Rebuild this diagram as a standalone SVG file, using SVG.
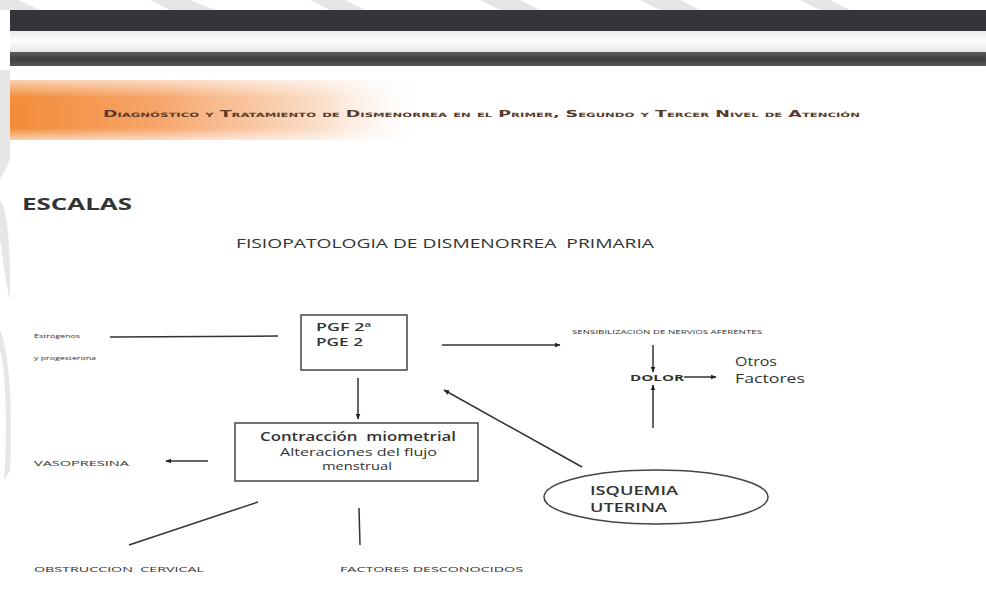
<svg xmlns="http://www.w3.org/2000/svg" width="986" height="605" viewBox="0 0 986 605">
<defs>
<style>
.t{font-family:"Open Sans","Liberation Sans",sans-serif;fill:#333;}
.ln{stroke:#333;stroke-width:1.5;fill:none;}
.box{stroke:#444;stroke-width:1.5;fill:#fff;}
</style>
<marker id="ah" viewBox="0 0 10 10" refX="9" refY="5" markerWidth="6" markerHeight="6" orient="auto" markerUnits="userSpaceOnUse">
<path d="M0,1 L10,5 L0,9 z" fill="#222"/>
</marker>
<linearGradient id="og" x1="0" y1="0" x2="1" y2="0">
<stop offset="0" stop-color="#f38b37"/>
<stop offset="0.35" stop-color="#f6a56a"/>
<stop offset="0.75" stop-color="#fbe0cc"/>
<stop offset="1" stop-color="#fff" stop-opacity="0"/>
</linearGradient>
<linearGradient id="og2" x1="0" y1="0" x2="0" y2="1">
<stop offset="0" stop-color="#fff" stop-opacity="0.6"/>
<stop offset="0.3" stop-color="#fff" stop-opacity="0"/>
<stop offset="0.8" stop-color="#fff" stop-opacity="0"/>
<stop offset="1" stop-color="#fff" stop-opacity="0.6"/>
</linearGradient>
<linearGradient id="dg" x1="0" y1="0" x2="0" y2="1">
<stop offset="0" stop-color="#5a5c5e"/>
<stop offset="0.5" stop-color="#3b3d40"/>
<stop offset="1" stop-color="#555759"/>
</linearGradient>
<linearGradient id="wg" x1="0" y1="0" x2="0" y2="1">
<stop offset="0" stop-color="#e9ecee"/>
<stop offset="0.5" stop-color="#fbfcfd"/>
<stop offset="1" stop-color="#e4e7e9"/>
</linearGradient>
</defs>
<rect width="986" height="605" fill="#fff"/>
<g id="watermark" fill="#e6e6e6">
<path d="M0,0 L18,0 L40,10 L0,10 z"/>
<path d="M150,0 L190,0 L215,10 L170,10 z"/>
<path d="M310,0 L345,0 L365,10 L330,10 z"/>
<path d="M480,0 L520,0 L540,10 L500,10 z"/>
<path d="M640,0 L680,0 L700,10 L660,10 z"/>
<path d="M800,0 L830,0 L850,10 L820,10 z"/>
<path d="M0,70 L10,70 L10,160 L0,180 z"/>
<path d="M0,200 C8,210 10,250 10,280 L10,300 C5,280 2,250 0,240 z"/>
<path d="M0,330 C12,360 12,430 10,470 L4,480 C8,430 6,370 0,350 z"/>
</g>
<g id="header">
<rect x="10" y="10" width="976" height="21" fill="#333538"/>
<rect x="10" y="31" width="976" height="21" fill="url(#wg)"/>
<rect x="10" y="52" width="976" height="14" fill="url(#dg)"/>
<rect x="10" y="80" width="420" height="60" fill="url(#og)"/>
<rect x="10" y="80" width="420" height="60" fill="url(#og2)"/>
<text x="103" y="117" font-family="'DejaVu Sans','Liberation Sans',sans-serif" font-weight="bold" font-size="9" font-variant="small-caps" fill="#5a3a28" textLength="757" lengthAdjust="spacingAndGlyphs">Diagnóstico y Tratamiento de Dismenorrea en el Primer, Segundo y Tercer Nivel de Atención</text>
</g>
<text class="t" x="22" y="210" font-size="15.5" font-weight="bold" fill="#222" textLength="110" lengthAdjust="spacingAndGlyphs">ESCALAS</text>
<text class="t" x="236" y="248" font-size="12" textLength="418" lengthAdjust="spacingAndGlyphs" xml:space="preserve">FISIOPATOLOGIA DE DISMENORREA  PRIMARIA</text>
<g id="connectors">
<line class="ln" x1="110" y1="337" x2="278" y2="336"/>
<line class="ln" x1="442" y1="345" x2="560" y2="345" marker-end="url(#ah)"/>
<line class="ln" x1="653" y1="345" x2="653" y2="372" marker-end="url(#ah)"/>
<line class="ln" x1="684" y1="377" x2="716" y2="377" marker-end="url(#ah)"/>
<line class="ln" x1="653" y1="428" x2="653" y2="385" marker-end="url(#ah)"/>
<line class="ln" x1="358" y1="378" x2="358" y2="419" marker-end="url(#ah)"/>
<line class="ln" x1="208" y1="461" x2="166" y2="461" marker-end="url(#ah)"/>
<line class="ln" x1="258" y1="502" x2="129" y2="545"/>
<line class="ln" x1="359" y1="508" x2="360" y2="545"/>
<line class="ln" x1="582" y1="467" x2="444" y2="390" marker-end="url(#ah)"/>
</g>
<g id="n-estrogenos">
<text class="t" x="34" y="338" font-size="5.5" fill="#555" textLength="46" lengthAdjust="spacingAndGlyphs">Estrógenos</text>
<text class="t" x="34" y="360" font-size="5.5" fill="#555" textLength="62" lengthAdjust="spacingAndGlyphs">y progesterona</text>
</g>
<g id="n-pgf">
<rect class="box" x="301" y="315" width="106" height="55"/>
<text class="t" x="316" y="331" font-size="11" font-weight="600" textLength="55" lengthAdjust="spacingAndGlyphs">PGF 2ª</text>
<text class="t" x="316" y="346" font-size="11" font-weight="600" textLength="47" lengthAdjust="spacingAndGlyphs">PGE 2</text>
</g>
<g id="n-sensib">
<text class="t" x="572" y="334" font-size="5.5" textLength="190" lengthAdjust="spacingAndGlyphs">SENSIBILIZACIÓN DE NERVIOS AFERENTES</text>
</g>
<g id="n-dolor">
<text class="t" x="630" y="381" font-size="9.5" font-weight="bold" fill="#222" textLength="54" lengthAdjust="spacingAndGlyphs">DOLOR</text>
</g>
<g id="n-otros">
<text class="t" x="735" y="366" font-size="13.5" textLength="42" lengthAdjust="spacingAndGlyphs">Otros</text>
<text class="t" x="735" y="383" font-size="13.5" textLength="70" lengthAdjust="spacingAndGlyphs">Factores</text>
</g>
<g id="n-contraccion">
<rect class="box" x="235" y="423" width="243" height="58"/>
<text class="t" x="260" y="441" font-size="13" font-weight="600" textLength="196" lengthAdjust="spacingAndGlyphs" xml:space="preserve">Contracción  miometrial</text>
<text class="t" x="280" y="456" font-size="10.5" textLength="157" lengthAdjust="spacingAndGlyphs">Alteraciones del flujo</text>
<text class="t" x="322" y="470" font-size="10.5" textLength="70" lengthAdjust="spacingAndGlyphs">menstrual</text>
</g>
<g id="n-vasopresina">
<text class="t" x="34" y="466" font-size="8" textLength="95" lengthAdjust="spacingAndGlyphs">VASOPRESINA</text>
</g>
<g id="n-isquemia">
<ellipse cx="656" cy="497" rx="112" ry="27" fill="#fff" stroke="#444" stroke-width="1.5"/>
<text class="t" x="590" y="495" font-size="12.5" font-weight="600" textLength="88" lengthAdjust="spacingAndGlyphs">ISQUEMIA</text>
<text class="t" x="590" y="512" font-size="12.5" font-weight="600" textLength="77" lengthAdjust="spacingAndGlyphs">UTERINA</text>
</g>
<g id="n-obstruccion">
<text class="t" x="34" y="572" font-size="7.5" textLength="170" lengthAdjust="spacingAndGlyphs" xml:space="preserve">OBSTRUCCION  CERVICAL</text>
</g>
<g id="n-factores">
<text class="t" x="340" y="572" font-size="7.5" textLength="183" lengthAdjust="spacingAndGlyphs">FACTORES DESCONOCIDOS</text>
</g>
</svg>
